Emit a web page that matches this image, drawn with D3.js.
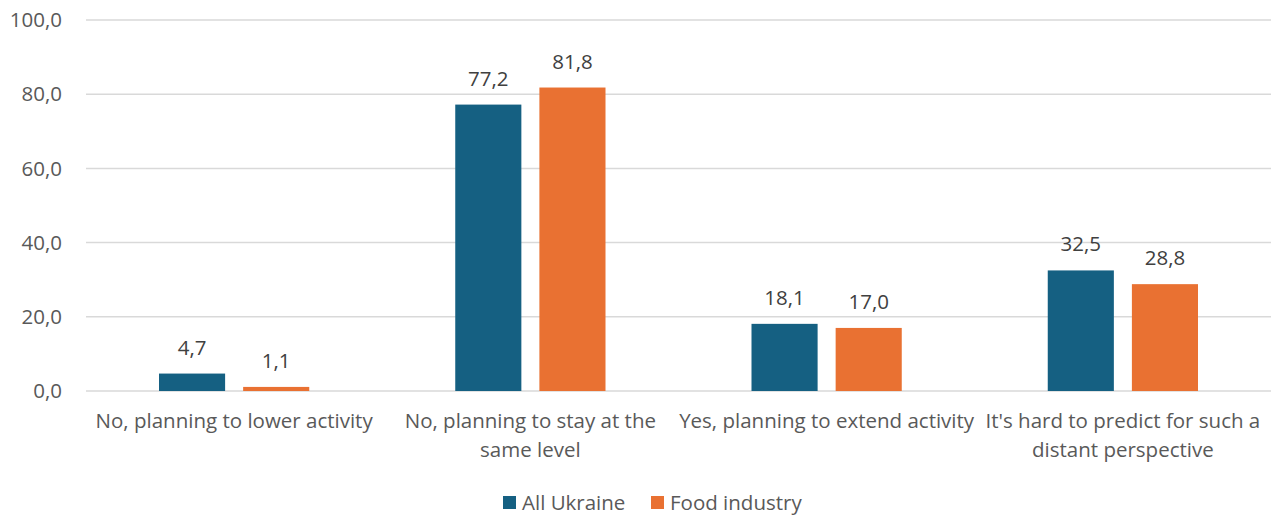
<!DOCTYPE html>
<html lang="en">
<head>
<meta charset="UTF-8">
<title>Chart</title>
<script src="https://d3js.org/d3.v7.min.js"></script>
<style>
  html, body { margin: 0; background: #fff; overflow: hidden; }
  text { font-family: "Open Sans", Roboto, sans-serif; }
</style>
</head>
<body>
<svg id="svg"></svg>
<script>
const categories = [
  "No, planning to lower activity",
  "No, planning to stay at the same level",
  "Yes, planning to extend activity",
  "It's hard to predict for such a distant perspective"
];
const seriesNames = ["All Ukraine", "Food industry"];
const allUkraine = [4.7, 77.2, 18.1, 32.5];
const foodIndustry = [1.1, 81.8, 17.0, 28.8];
const yTicks = [0, 20, 40, 60, 80, 100];
const colors = ["#156082", "#E97132"];

const width = 1279, height = 520;
const margin = { top: 20, right: 8, bottom: 129, left: 86 };
const fs = 20.5;
const svg = d3.select("#svg").attr("width", width).attr("height", height);

const fmt = v => d3.format(".1f")(v).replace(".", ",");

const x = d3.scaleBand().domain(categories)
  .range([margin.left, width - margin.right])
  .paddingInner(0).paddingOuter(0);
const x1 = d3.scaleBand().domain(seriesNames)
  .range([73, x.bandwidth() - 73]).paddingInner(36 / 168).paddingOuter(0);
const y = d3.scaleLinear().domain([0, 100]).range([height - margin.bottom, margin.top]);

// gridlines
svg.append("g").selectAll("line").data(yTicks).join("line")
  .attr("x1", margin.left).attr("x2", width - margin.right)
  .attr("y1", d => y(d)).attr("y2", d => y(d))
  .attr("stroke", "#d9d9d9").attr("stroke-width", 1.5);

// y labels
svg.append("g").selectAll("text").data(yTicks).join("text")
  .attr("x", 62).attr("y", d => y(d)).attr("dy", "0.35em")
  .attr("text-anchor", "end").attr("fill", "#595959").attr("font-size", fs)
  .text(fmt);

const rows = categories.map((c, i) => ({ c, vals: [allUkraine[i], foodIndustry[i]] }));

const groups = svg.append("g").selectAll("g").data(rows).join("g")
  .attr("transform", d => `translate(${x(d.c)},0)`);

groups.selectAll("rect").data(d => d.vals.map((v, j) => ({ v, s: seriesNames[j], j })))
  .join("rect")
  .attr("x", d => x1(d.s)).attr("width", x1.bandwidth())
  .attr("y", d => y(d.v)).attr("height", d => y(0) - y(d.v))
  .attr("fill", d => colors[d.j]);

groups.selectAll("text.lbl").data(d => d.vals.map((v, j) => ({ v, s: seriesNames[j], j })))
  .join("text").attr("class", "lbl")
  .attr("x", d => x1(d.s) + x1.bandwidth() / 2).attr("y", d => y(d.v) - 19)
  .attr("text-anchor", "middle").attr("fill", "#404040").attr("font-size", fs)
  .text(d => fmt(d.v));

// category labels with wrapping
const catText = svg.append("g").selectAll("text").data(categories).join("text")
  .attr("x", d => x(d) + x.bandwidth() / 2).attr("y", 428)
  .attr("text-anchor", "middle").attr("fill", "#595959").attr("font-size", fs);

catText.each(function(d) {
  const t = d3.select(this);
  const words = d.split(" ");
  let line = [];
  let tspan = t.append("tspan").attr("x", x(d) + x.bandwidth() / 2).attr("dy", 0);
  words.forEach(w => {
    line.push(w);
    tspan.text(line.join(" "));
    if (tspan.node().getComputedTextLength() > x.bandwidth() - 1 && line.length > 1) {
      line.pop();
      tspan.text(line.join(" "));
      line = [w];
      tspan = t.append("tspan").attr("x", x(d) + x.bandwidth() / 2).attr("dy", 29).text(w);
    }
  });
});

// legend
const legend = svg.append("g").attr("transform", "translate(503,503)");
const legendX = [0, 148];
seriesNames.forEach((s, i) => {
  legend.append("rect").attr("x", legendX[i]).attr("y", -7).attr("width", 13).attr("height", 13)
    .attr("fill", colors[i]);
  legend.append("text").attr("x", legendX[i] + 19).attr("y", 0).attr("dy", "0.35em")
    .attr("fill", "#595959").attr("font-size", fs).text(s);
});
</script>
</body>
</html>
